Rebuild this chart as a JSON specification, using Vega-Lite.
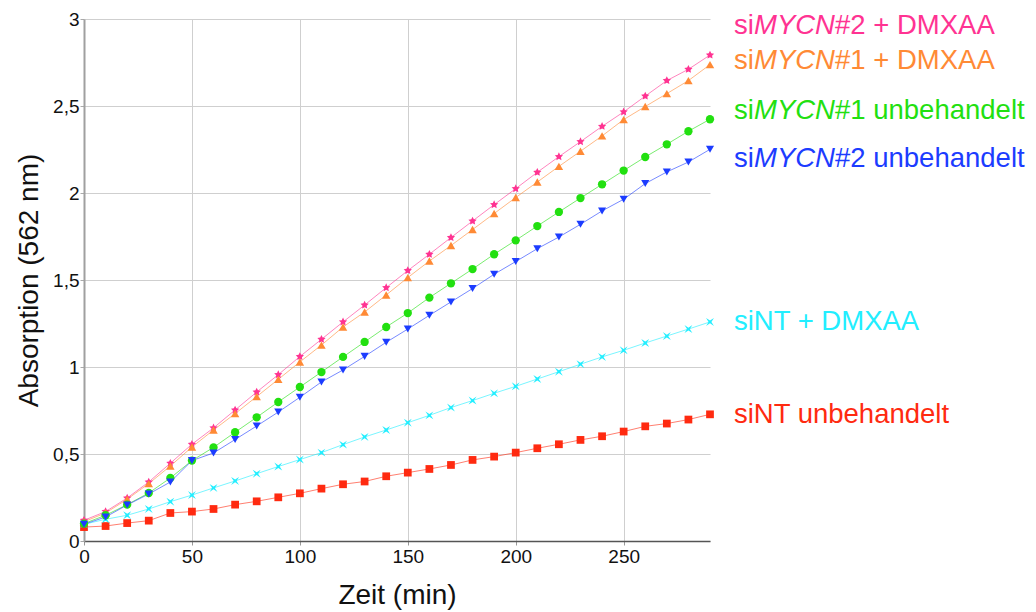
{
  "$schema": "https://vega.github.io/schema/vega-lite/v6.json",
  "width": 626,
  "height": 522,
  "autosize": {"type": "none"},
  "padding": {"left": 84, "top": 19, "right": 326, "bottom": 71},
  "background": "white",
  "config": {
    "locale": {"number": {"decimal": ",", "thousands": ".", "grouping": [3], "currency": ["", " €"]}},
    "view": {"stroke": null},
    "font": "Liberation Sans"
  },
  "datasets": {
    "pts": [
      {"s":"siNT unbehandelt","t":0,"v":0.080},{"s":"siNT unbehandelt","t":10,"v":0.086},{"s":"siNT unbehandelt","t":20,"v":0.103},{"s":"siNT unbehandelt","t":30,"v":0.117},{"s":"siNT unbehandelt","t":40,"v":0.161},{"s":"siNT unbehandelt","t":50,"v":0.169},{"s":"siNT unbehandelt","t":60,"v":0.184},{"s":"siNT unbehandelt","t":70,"v":0.209},{"s":"siNT unbehandelt","t":80,"v":0.228},{"s":"siNT unbehandelt","t":90,"v":0.251},{"s":"siNT unbehandelt","t":100,"v":0.274},{"s":"siNT unbehandelt","t":110,"v":0.301},{"s":"siNT unbehandelt","t":120,"v":0.326},{"s":"siNT unbehandelt","t":130,"v":0.342},{"s":"siNT unbehandelt","t":140,"v":0.372},{"s":"siNT unbehandelt","t":150,"v":0.393},{"s":"siNT unbehandelt","t":160,"v":0.414},{"s":"siNT unbehandelt","t":170,"v":0.437},{"s":"siNT unbehandelt","t":180,"v":0.466},{"s":"siNT unbehandelt","t":190,"v":0.485},{"s":"siNT unbehandelt","t":200,"v":0.508},{"s":"siNT unbehandelt","t":210,"v":0.533},{"s":"siNT unbehandelt","t":220,"v":0.556},{"s":"siNT unbehandelt","t":230,"v":0.581},{"s":"siNT unbehandelt","t":240,"v":0.602},{"s":"siNT unbehandelt","t":250,"v":0.629},{"s":"siNT unbehandelt","t":260,"v":0.659},{"s":"siNT unbehandelt","t":270,"v":0.675},{"s":"siNT unbehandelt","t":280,"v":0.698},{"s":"siNT unbehandelt","t":290,"v":0.728},
      {"s":"siNT + DMXAA","t":0,"v":0.096},{"s":"siNT + DMXAA","t":10,"v":0.125},{"s":"siNT + DMXAA","t":20,"v":0.148},{"s":"siNT + DMXAA","t":30,"v":0.184},{"s":"siNT + DMXAA","t":40,"v":0.226},{"s":"siNT + DMXAA","t":50,"v":0.264},{"s":"siNT + DMXAA","t":60,"v":0.305},{"s":"siNT + DMXAA","t":70,"v":0.345},{"s":"siNT + DMXAA","t":80,"v":0.387},{"s":"siNT + DMXAA","t":90,"v":0.428},{"s":"siNT + DMXAA","t":100,"v":0.468},{"s":"siNT + DMXAA","t":110,"v":0.508},{"s":"siNT + DMXAA","t":120,"v":0.554},{"s":"siNT + DMXAA","t":130,"v":0.598},{"s":"siNT + DMXAA","t":140,"v":0.638},{"s":"siNT + DMXAA","t":150,"v":0.680},{"s":"siNT + DMXAA","t":160,"v":0.722},{"s":"siNT + DMXAA","t":170,"v":0.767},{"s":"siNT + DMXAA","t":180,"v":0.807},{"s":"siNT + DMXAA","t":190,"v":0.849},{"s":"siNT + DMXAA","t":200,"v":0.889},{"s":"siNT + DMXAA","t":210,"v":0.931},{"s":"siNT + DMXAA","t":220,"v":0.973},{"s":"siNT + DMXAA","t":230,"v":1.016},{"s":"siNT + DMXAA","t":240,"v":1.058},{"s":"siNT + DMXAA","t":250,"v":1.096},{"s":"siNT + DMXAA","t":260,"v":1.138},{"s":"siNT + DMXAA","t":270,"v":1.178},{"s":"siNT + DMXAA","t":280,"v":1.218},{"s":"siNT + DMXAA","t":290,"v":1.259},
      {"s":"siMYCN#2 + DMXAA","t":0,"v":0.119},{"s":"siMYCN#2 + DMXAA","t":10,"v":0.169},{"s":"siMYCN#2 + DMXAA","t":20,"v":0.247},{"s":"siMYCN#2 + DMXAA","t":30,"v":0.339},{"s":"siMYCN#2 + DMXAA","t":40,"v":0.447},{"s":"siMYCN#2 + DMXAA","t":50,"v":0.556},{"s":"siMYCN#2 + DMXAA","t":60,"v":0.650},{"s":"siMYCN#2 + DMXAA","t":70,"v":0.753},{"s":"siMYCN#2 + DMXAA","t":80,"v":0.856},{"s":"siMYCN#2 + DMXAA","t":90,"v":0.956},{"s":"siMYCN#2 + DMXAA","t":100,"v":1.060},{"s":"siMYCN#2 + DMXAA","t":110,"v":1.159},{"s":"siMYCN#2 + DMXAA","t":120,"v":1.259},{"s":"siMYCN#2 + DMXAA","t":130,"v":1.356},{"s":"siMYCN#2 + DMXAA","t":140,"v":1.456},{"s":"siMYCN#2 + DMXAA","t":150,"v":1.554},{"s":"siMYCN#2 + DMXAA","t":160,"v":1.648},{"s":"siMYCN#2 + DMXAA","t":170,"v":1.744},{"s":"siMYCN#2 + DMXAA","t":180,"v":1.839},{"s":"siMYCN#2 + DMXAA","t":190,"v":1.933},{"s":"siMYCN#2 + DMXAA","t":200,"v":2.025},{"s":"siMYCN#2 + DMXAA","t":210,"v":2.119},{"s":"siMYCN#2 + DMXAA","t":220,"v":2.209},{"s":"siMYCN#2 + DMXAA","t":230,"v":2.295},{"s":"siMYCN#2 + DMXAA","t":240,"v":2.383},{"s":"siMYCN#2 + DMXAA","t":250,"v":2.466},{"s":"siMYCN#2 + DMXAA","t":260,"v":2.557},{"s":"siMYCN#2 + DMXAA","t":270,"v":2.646},{"s":"siMYCN#2 + DMXAA","t":280,"v":2.711},{"s":"siMYCN#2 + DMXAA","t":290,"v":2.793},
      {"s":"siMYCN#1 + DMXAA","t":0,"v":0.111},{"s":"siMYCN#1 + DMXAA","t":10,"v":0.161},{"s":"siMYCN#1 + DMXAA","t":20,"v":0.240},{"s":"siMYCN#1 + DMXAA","t":30,"v":0.330},{"s":"siMYCN#1 + DMXAA","t":40,"v":0.431},{"s":"siMYCN#1 + DMXAA","t":50,"v":0.540},{"s":"siMYCN#1 + DMXAA","t":60,"v":0.638},{"s":"siMYCN#1 + DMXAA","t":70,"v":0.732},{"s":"siMYCN#1 + DMXAA","t":80,"v":0.830},{"s":"siMYCN#1 + DMXAA","t":90,"v":0.929},{"s":"siMYCN#1 + DMXAA","t":100,"v":1.029},{"s":"siMYCN#1 + DMXAA","t":110,"v":1.126},{"s":"siMYCN#1 + DMXAA","t":120,"v":1.230},{"s":"siMYCN#1 + DMXAA","t":130,"v":1.316},{"s":"siMYCN#1 + DMXAA","t":140,"v":1.414},{"s":"siMYCN#1 + DMXAA","t":150,"v":1.514},{"s":"siMYCN#1 + DMXAA","t":160,"v":1.609},{"s":"siMYCN#1 + DMXAA","t":170,"v":1.698},{"s":"siMYCN#1 + DMXAA","t":180,"v":1.790},{"s":"siMYCN#1 + DMXAA","t":190,"v":1.882},{"s":"siMYCN#1 + DMXAA","t":200,"v":1.974},{"s":"siMYCN#1 + DMXAA","t":210,"v":2.063},{"s":"siMYCN#1 + DMXAA","t":220,"v":2.153},{"s":"siMYCN#1 + DMXAA","t":230,"v":2.240},{"s":"siMYCN#1 + DMXAA","t":240,"v":2.328},{"s":"siMYCN#1 + DMXAA","t":250,"v":2.422},{"s":"siMYCN#1 + DMXAA","t":260,"v":2.497},{"s":"siMYCN#1 + DMXAA","t":270,"v":2.571},{"s":"siMYCN#1 + DMXAA","t":280,"v":2.646},{"s":"siMYCN#1 + DMXAA","t":290,"v":2.738},
      {"s":"siMYCN#1 unbehandelt","t":0,"v":0.100},{"s":"siMYCN#1 unbehandelt","t":10,"v":0.148},{"s":"siMYCN#1 unbehandelt","t":20,"v":0.209},{"s":"siMYCN#1 unbehandelt","t":30,"v":0.276},{"s":"siMYCN#1 unbehandelt","t":40,"v":0.362},{"s":"siMYCN#1 unbehandelt","t":50,"v":0.462},{"s":"siMYCN#1 unbehandelt","t":60,"v":0.538},{"s":"siMYCN#1 unbehandelt","t":70,"v":0.625},{"s":"siMYCN#1 unbehandelt","t":80,"v":0.711},{"s":"siMYCN#1 unbehandelt","t":90,"v":0.799},{"s":"siMYCN#1 unbehandelt","t":100,"v":0.885},{"s":"siMYCN#1 unbehandelt","t":110,"v":0.971},{"s":"siMYCN#1 unbehandelt","t":120,"v":1.058},{"s":"siMYCN#1 unbehandelt","t":130,"v":1.144},{"s":"siMYCN#1 unbehandelt","t":140,"v":1.230},{"s":"siMYCN#1 unbehandelt","t":150,"v":1.310},{"s":"siMYCN#1 unbehandelt","t":160,"v":1.399},{"s":"siMYCN#1 unbehandelt","t":170,"v":1.481},{"s":"siMYCN#1 unbehandelt","t":180,"v":1.563},{"s":"siMYCN#1 unbehandelt","t":190,"v":1.648},{"s":"siMYCN#1 unbehandelt","t":200,"v":1.728},{"s":"siMYCN#1 unbehandelt","t":210,"v":1.810},{"s":"siMYCN#1 unbehandelt","t":220,"v":1.891},{"s":"siMYCN#1 unbehandelt","t":230,"v":1.971},{"s":"siMYCN#1 unbehandelt","t":240,"v":2.050},{"s":"siMYCN#1 unbehandelt","t":250,"v":2.129},{"s":"siMYCN#1 unbehandelt","t":260,"v":2.207},{"s":"siMYCN#1 unbehandelt","t":270,"v":2.280},{"s":"siMYCN#1 unbehandelt","t":280,"v":2.355},{"s":"siMYCN#1 unbehandelt","t":290,"v":2.424},
      {"s":"siMYCN#2 unbehandelt","t":0,"v":0.096},{"s":"siMYCN#2 unbehandelt","t":10,"v":0.138},{"s":"siMYCN#2 unbehandelt","t":20,"v":0.207},{"s":"siMYCN#2 unbehandelt","t":30,"v":0.270},{"s":"siMYCN#2 unbehandelt","t":40,"v":0.339},{"s":"siMYCN#2 unbehandelt","t":50,"v":0.462},{"s":"siMYCN#2 unbehandelt","t":60,"v":0.506},{"s":"siMYCN#2 unbehandelt","t":70,"v":0.583},{"s":"siMYCN#2 unbehandelt","t":80,"v":0.661},{"s":"siMYCN#2 unbehandelt","t":90,"v":0.741},{"s":"siMYCN#2 unbehandelt","t":100,"v":0.826},{"s":"siMYCN#2 unbehandelt","t":110,"v":0.914},{"s":"siMYCN#2 unbehandelt","t":120,"v":0.983},{"s":"siMYCN#2 unbehandelt","t":130,"v":1.061},{"s":"siMYCN#2 unbehandelt","t":140,"v":1.142},{"s":"siMYCN#2 unbehandelt","t":150,"v":1.218},{"s":"siMYCN#2 unbehandelt","t":160,"v":1.297},{"s":"siMYCN#2 unbehandelt","t":170,"v":1.374},{"s":"siMYCN#2 unbehandelt","t":180,"v":1.451},{"s":"siMYCN#2 unbehandelt","t":190,"v":1.533},{"s":"siMYCN#2 unbehandelt","t":200,"v":1.606},{"s":"siMYCN#2 unbehandelt","t":210,"v":1.680},{"s":"siMYCN#2 unbehandelt","t":220,"v":1.747},{"s":"siMYCN#2 unbehandelt","t":230,"v":1.820},{"s":"siMYCN#2 unbehandelt","t":240,"v":1.897},{"s":"siMYCN#2 unbehandelt","t":250,"v":1.964},{"s":"siMYCN#2 unbehandelt","t":260,"v":2.054},{"s":"siMYCN#2 unbehandelt","t":270,"v":2.121},{"s":"siMYCN#2 unbehandelt","t":280,"v":2.178},{"s":"siMYCN#2 unbehandelt","t":290,"v":2.251}
    ],
    "labels": [
      {"s":"siMYCN#2 + DMXAA","t":290,"v":2.916,"a":"si","b":"MYCN","c":"#2 + DMXAA"},
      {"s":"siMYCN#1 + DMXAA","t":290,"v":2.715,"a":"si","b":"MYCN","c":"#1 + DMXAA"},
      {"s":"siMYCN#1 unbehandelt","t":290,"v":2.424,"a":"si","b":"MYCN","c":"#1 unbehandelt"},
      {"s":"siMYCN#2 unbehandelt","t":290,"v":2.149,"a":"si","b":"MYCN","c":"#2 unbehandelt"},
      {"s":"siNT + DMXAA","t":290,"v":1.215,"a":"siNT + DMXAA","b":"","c":""},
      {"s":"siNT unbehandelt","t":290,"v":0.678,"a":"siNT unbehandelt","b":"","c":""}
    ]
  },
  "encoding": {
    "x": {
      "field": "t", "type": "quantitative",
      "scale": {"domain": [0, 290], "nice": false, "zero": false},
      "axis": {
        "title": "Zeit (min)", "values": [0, 50, 100, 150, 200, 250],
        "grid": true, "gridColor": "#cfcfcf", "gridWidth": 1,
        "domainColor": "#555555", "domainWidth": 1.5,
        "tickColor": "#999999", "tickSize": 4,
        "labelFont": "Liberation Sans", "labelFontSize": 19, "labelColor": "#111111", "labelPadding": 2,
        "labelFlush": false,
        "titleFont": "Liberation Sans", "titleFontSize": 28, "titleFontWeight": "normal", "titleColor": "#111111", "titlePadding": 15
      }
    },
    "y": {
      "field": "v", "type": "quantitative",
      "scale": {"domain": [0, 3], "nice": false},
      "axis": {
        "title": "Absorption (562 nm)", "values": [0, 0.5, 1, 1.5, 2, 2.5, 3], "format": "~g",
        "grid": true, "gridColor": "#cfcfcf", "gridWidth": 1,
        "domainColor": "#a0a0a0", "domainWidth": 2,
        "tickColor": "#aaaaaa", "tickSize": 4,
        "labelFont": "Liberation Sans", "labelFontSize": 19, "labelColor": "#111111", "labelPadding": 1,
        "labelFlush": false,
        "titleFont": "Liberation Sans", "titleFontSize": 28, "titleFontWeight": "normal", "titleColor": "#111111", "titlePadding": 9
      }
    }
  },
  "layer": [
    {
      "data": {"name": "pts"},
      "mark": {"type": "line", "strokeWidth": 1, "opacity": 0.6},
      "encoding": {
        "color": {"field": "s", "type": "nominal", "legend": null,
          "scale": {"domain": ["siMYCN#2 + DMXAA","siMYCN#1 + DMXAA","siMYCN#1 unbehandelt","siMYCN#2 unbehandelt","siNT + DMXAA","siNT unbehandelt"],
                    "range": ["#ff3392","#ff8a35","#22e010","#1c3cff","#22eeff","#ff2a10"]}},
        "detail": {"field": "s"}
      }
    },
    {
      "data": {"name": "pts"},
      "mark": {"type": "point", "filled": true, "opacity": 1},
      "encoding": {
        "color": {"field": "s", "type": "nominal", "legend": null},
        "shape": {"field": "s", "type": "nominal", "legend": null,
          "scale": {"domain": ["siMYCN#2 + DMXAA","siMYCN#1 + DMXAA","siMYCN#1 unbehandelt","siMYCN#2 unbehandelt","siNT + DMXAA","siNT unbehandelt"],
                    "range": ["M0,-1L0.29,-0.4L0.95,-0.31L0.48,0.15L0.59,0.81L0,0.5L-0.59,0.81L-0.48,0.15L-0.95,-0.31L-0.29,-0.4Z","triangle-up","circle","triangle-down","M-1,-1L0,-0.35L1,-1L0.35,0L1,1L0,0.35L-1,1L-0.35,0Z","square"]}},
        "size": {"field": "s", "type": "nominal", "legend": null,
          "scale": {"domain": ["siMYCN#2 + DMXAA","siMYCN#1 + DMXAA","siMYCN#1 unbehandelt","siMYCN#2 unbehandelt","siNT + DMXAA","siNT unbehandelt"],
                    "range": [75, 60, 60, 60, 52, 130]}}
      }
    },
    {
      "data": {"name": "labels"},
      "mark": {"type": "text", "align": "left", "baseline": "alphabetic", "dx": 24, "fontSize": 27.5, "font": "Liberation Sans"},
      "encoding": {"text": {"field": "a"}, "color": {"field": "s", "type": "nominal", "legend": null}}
    },
    {
      "data": {"name": "labels"},
      "mark": {"type": "text", "align": "left", "baseline": "alphabetic", "dx": 44, "fontSize": 27.5, "fontStyle": "italic", "font": "Liberation Sans"},
      "encoding": {"text": {"field": "b"}, "color": {"field": "s", "type": "nominal", "legend": null}}
    },
    {
      "data": {"name": "labels"},
      "mark": {"type": "text", "align": "left", "baseline": "alphabetic", "dx": 125, "fontSize": 27.5, "font": "Liberation Sans"},
      "encoding": {"text": {"field": "c"}, "color": {"field": "s", "type": "nominal", "legend": null}}
    }
  ]
}
